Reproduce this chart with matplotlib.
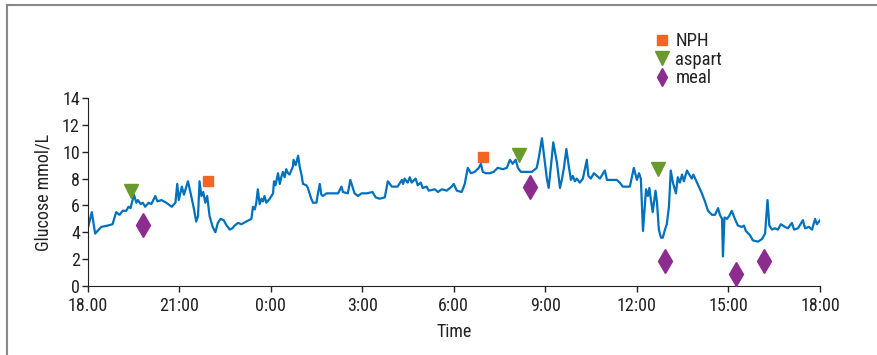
import matplotlib
matplotlib.use("Agg")
import matplotlib.pyplot as plt
from matplotlib.lines import Line2D

plt.rcParams['font.family'] = ['Roboto Condensed', 'DejaVu Sans']

# hours after 18:00 and CGM glucose (mmol/L)
hours = [
    0.00, 0.14, 0.25, 0.45, 0.66, 0.82, 0.94, 1.05, 1.15, 1.27, 1.34, 1.41,
    1.52, 1.60, 1.65, 1.74, 1.81, 1.89, 2.00, 2.09, 2.22, 2.29, 2.42, 2.58,
    2.76, 2.88, 2.94, 2.99, 3.09, 3.16, 3.29, 3.38, 3.49, 3.56, 3.62, 3.67,
    3.73, 3.79, 3.86, 3.92, 4.00, 4.10, 4.19, 4.27, 4.36, 4.46, 4.56, 4.66,
    4.75, 4.82, 4.93, 5.04, 5.20, 5.37, 5.42, 5.48, 5.53, 5.58, 5.64, 5.70,
    5.75, 5.80, 5.86, 5.97, 6.08, 6.11, 6.16, 6.24, 6.30, 6.35, 6.40, 6.46,
    6.51, 6.57, 6.62, 6.73, 6.75, 6.82, 6.90, 6.95, 7.01, 7.06, 7.17, 7.22,
    7.33, 7.39, 7.50, 7.55, 7.61, 7.66, 7.71, 7.83, 8.21, 8.32, 8.37, 8.53,
    8.61, 8.68, 8.75, 8.86, 8.98, 9.15, 9.34, 9.44, 9.57, 9.74, 9.84, 9.97,
    10.16, 10.30, 10.34, 10.39, 10.49, 10.56, 10.62, 10.75, 10.82, 10.92,
    10.98, 11.11, 11.18, 11.38, 11.48, 11.61, 11.77, 11.93, 12.00, 12.10,
    12.26, 12.36, 12.46, 12.56, 12.69, 12.82, 12.89, 12.95, 13.05, 13.18,
    13.31, 13.44, 13.61, 13.74, 13.84, 13.93, 14.03, 14.10, 14.20, 14.36,
    14.56, 14.72, 14.79, 14.89, 14.95, 15.05, 15.11, 15.21, 15.26, 15.38,
    15.48, 15.54, 15.61, 15.69, 15.77, 15.84, 15.90, 15.97, 16.03, 16.13,
    16.23, 16.36, 16.41, 16.49, 16.59, 16.69, 16.79, 16.95, 17.02, 17.18,
    17.34, 17.44, 17.54, 17.77, 17.90, 18.00, 18.07, 18.13, 18.20, 18.30,
    18.36, 18.41, 18.46, 18.52, 18.61, 18.66, 18.72, 18.79, 18.85, 18.92,
    18.98, 19.05, 19.11, 19.18, 19.28, 19.34, 19.41, 19.48, 19.54, 19.64,
    19.69, 19.80, 19.85, 19.97, 20.13, 20.23, 20.33, 20.46, 20.56, 20.66,
    20.72, 20.79, 20.82, 20.87, 20.95, 21.02, 21.11, 21.21, 21.31, 21.44,
    21.51, 21.57, 21.70, 21.80, 21.97, 22.10, 22.20, 22.28, 22.34, 22.43,
    22.52, 22.62, 22.72, 22.85, 22.95, 23.08, 23.15, 23.28, 23.44, 23.51,
    23.64, 23.74, 23.84, 23.90, 24.00,
]
glucose = [
    4.2, 5.5, 3.9, 4.4, 4.5, 4.6, 5.5, 5.3, 5.6, 5.6, 5.9, 5.8,
    6.8, 6.2, 6.4, 6.1, 6.2, 5.9, 6.2, 6.1, 6.7, 6.3, 6.4, 6.2,
    5.9, 6.2, 7.6, 6.4, 7.4, 6.8, 7.8, 6.9, 5.7, 4.8, 5.2, 7.8,
    6.7, 7.0, 6.2, 6.7, 5.2, 4.4, 4.0, 4.7, 5.0, 4.9, 4.5, 4.2,
    4.3, 4.5, 4.7, 4.6, 4.8, 5.0, 5.9, 5.7, 6.2, 7.2, 6.1, 6.5,
    6.3, 6.7, 6.2, 6.5, 6.9, 7.8, 7.5, 8.4, 7.6, 8.1, 8.5, 8.1,
    8.7, 8.4, 8.3, 8.9, 9.4, 9.0, 9.7, 8.9, 8.3, 7.6, 7.5, 7.3,
    6.5, 6.2, 6.2, 6.9, 7.6, 6.8, 6.7, 6.9, 6.9, 7.4, 7.0, 6.9,
    7.9, 7.4, 6.9, 6.7, 6.9, 6.9, 7.0, 6.6, 6.5, 6.6, 7.8, 7.4,
    7.4, 7.9, 7.6, 8.0, 7.7, 8.1, 7.7, 8.0, 7.5, 7.7,
    7.3, 7.4, 7.1, 7.2, 7.0, 7.2, 7.1, 7.4, 7.6, 7.1,
    7.0, 7.6, 8.8, 8.4, 8.5, 8.8, 9.1, 8.5, 8.4, 8.4,
    8.5, 8.8, 8.7, 8.8, 9.4, 9.1, 9.4, 8.8, 8.5, 8.5,
    8.5, 8.8, 9.6, 11.0, 9.9, 8.0, 7.3, 9.5, 10.7, 9.2,
    7.3, 7.9, 8.8, 10.2, 8.9, 7.9, 8.2, 7.8, 8.0, 7.7,
    8.0, 9.4, 8.2, 8.0, 8.4, 8.2, 8.0, 8.6, 7.9, 7.9,
    7.9, 7.7, 7.4, 7.4, 8.8, 7.9, 8.4, 8.0, 4.1, 7.2,
    6.7, 7.3, 6.4, 5.5, 7.1, 6.2, 4.2, 3.6, 3.6, 4.2,
    4.6, 5.9, 8.6, 7.7, 6.9, 8.1, 7.7, 8.3, 7.8, 8.6,
    8.4, 8.0, 8.3, 7.7, 6.9, 6.3, 5.6, 5.3, 5.3, 5.8,
    5.3, 5.0, 2.2, 5.1, 5.0, 5.2, 5.6, 5.0, 4.5, 4.4,
    4.5, 4.1, 3.8, 3.4, 3.3, 3.5, 3.9, 6.4, 4.5, 4.2,
    4.3, 4.2, 4.6, 4.4, 4.3, 4.7, 4.2, 4.3, 4.9, 4.3,
    4.4, 4.2, 5.0, 4.6, 4.9,
]

nph_hours = [3.94, 12.96]
nph_values = [7.8, 9.6]
aspart_hours = [1.41, 14.13, 18.69]
aspart_values = [7.1, 9.75, 8.75]
meal_hours = [1.81, 14.49, 18.92, 21.24, 22.16]
meal_values = [4.55, 7.36, 1.87, 0.93, 1.87]

tick_hours = [0, 3, 6, 9, 12, 15, 18, 21, 24]
tick_labels = ['18.00', '21:00', '0:00', '3:00', '6:00', '9:00', '12:00', '15:00', '18:00']

c_line = '#0071BC'
c_nph = '#F26522'
c_asp = '#6A9A2C'
c_meal = '#8B2C8E'
c_text = '#222222'

fig = plt.figure(figsize=(8.77, 3.55), dpi=100)
ax = fig.add_axes([0.0998, 0.1944, 0.8352, 0.5295])

ax.plot(hours, glucose, color=c_line, lw=1.6, zorder=2)
ax.plot(nph_hours, nph_values, 's', color=c_nph, ms=7, ls='none', zorder=3)
ax.plot(aspart_hours, aspart_values, 'v', color=c_asp, ms=10.5, ls='none', zorder=3)
ax.plot(meal_hours, meal_values, 'd', color=c_meal, ms=12, ls='none', zorder=3)

ax.set_xlim(0, 24)
ax.set_ylim(0, 14)
ax.set_yticks(range(0, 15, 2))
ax.set_xticks(tick_hours)
ax.set_xticklabels(tick_labels)
ax.tick_params(axis='both', direction='out', length=4, width=1, labelsize=13, colors=c_text)
ax.tick_params(axis='y', pad=1.5)
ax.tick_params(axis='x', pad=4)
for s in ['top', 'right']:
    ax.spines[s].set_visible(False)
for s in ['left', 'bottom']:
    ax.spines[s].set_color(c_text)

ax.set_ylabel('Glucose mmol/L', fontsize=13, labelpad=7, color=c_text)
ax.set_xlabel('Time', fontsize=13, labelpad=6, color=c_text)

# legend with slightly smaller symbols than on the plot
handles = [
    Line2D([], [], marker='s', color=c_nph, ms=7, ls='none'),
    Line2D([], [], marker='v', color=c_asp, ms=10, ls='none'),
    Line2D([], [], marker='d', color=c_meal, ms=9, ls='none'),
]
leg = fig.legend(handles, ['NPH', 'aspart', 'meal'], loc='upper left',
                 bbox_to_anchor=(0.738, 0.93), frameon=False,
                 fontsize=13.5, handlelength=0.8, handletextpad=0.3, labelspacing=0.02,
                 borderaxespad=0)
for t in leg.get_texts():
    t.set_color(c_text)

# grey frame around the figure
fig.add_artist(Line2D([0.008, 0.008], [0, 0.986], transform=fig.transFigure, color='#888888', lw=1.5))
fig.add_artist(Line2D([0.008, 1.0], [0.986, 0.986], transform=fig.transFigure, color='#888888', lw=1.5))

fig.savefig('out.png', dpi=100)
